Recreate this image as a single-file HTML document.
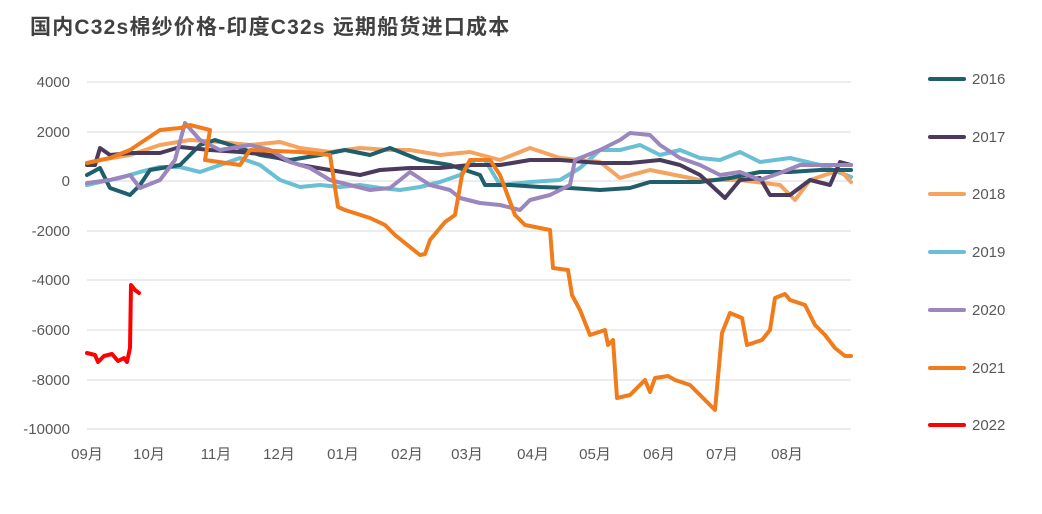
<!DOCTYPE html>
<html><head><meta charset="utf-8"><style>
body{margin:0;background:#fff;width:1042px;height:514px;overflow:hidden}
svg{display:block}
text{font-family:"Liberation Sans","Noto Sans CJK SC",sans-serif;fill:#595959;font-size:15px}
</style></head><body>
<svg width="1042" height="514" viewBox="0 0 1042 514">
<text x="30" y="34" style="font-size:21px;font-weight:bold;fill:#404040;letter-spacing:1.2px">国内C32s棉纱价格-印度C32s 远期船货进口成本</text>
<g stroke="#d9d9d9" stroke-width="1">
<line x1="87" x2="851" y1="82" y2="82"/><line x1="87" x2="851" y1="132" y2="132"/>
<line x1="87" x2="851" y1="181" y2="181"/><line x1="87" x2="851" y1="231" y2="231"/>
<line x1="87" x2="851" y1="280" y2="280"/><line x1="87" x2="851" y1="330" y2="330"/>
<line x1="87" x2="851" y1="380" y2="380"/><line x1="87" x2="851" y1="429" y2="429"/>
</g>
<g text-anchor="end">
<text x="70" y="87">4000</text><text x="70" y="137">2000</text><text x="70" y="186">0</text>
<text x="70" y="236">-2000</text><text x="70" y="285">-4000</text><text x="70" y="335">-6000</text>
<text x="70" y="385">-8000</text><text x="70" y="434">-10000</text>
</g>
<g text-anchor="middle">
<text x="87" y="459">09月</text><text x="149" y="459">10月</text><text x="216" y="459">11月</text>
<text x="279" y="459">12月</text><text x="343" y="459">01月</text><text x="407" y="459">02月</text>
<text x="467" y="459">03月</text><text x="533" y="459">04月</text><text x="595" y="459">05月</text>
<text x="659" y="459">06月</text><text x="722" y="459">07月</text><text x="787" y="459">08月</text>
</g>
<g fill="none" stroke-width="4" stroke-linejoin="round" stroke-linecap="round">
<polyline stroke="#6bbfd4" points="87,185 100,182 120,178 140,172 160,167 180,167 200,172 220,165 240,158 260,165 280,180 300,187 320,185 340,187 360,185 380,188 400,190 420,187 440,182 460,175 475,160 485,160 500,185 530,182 560,180 580,168 600,150 620,150 640,145 660,155 680,150 700,158 720,160 740,152 760,162 790,158 820,165 851,177"/>
<polyline stroke="#f4a460" points="87,163 100,160 130,155 160,145 190,140 220,142 250,145 280,142 300,148 330,152 360,148 390,150 410,150 440,155 470,152 500,160 530,148 560,158 600,162 620,178 650,170 700,180 740,180 780,185 795,200 810,180 840,170 851,182"/>
<polyline stroke="#1f5f6b" points="87,175 100,168 110,188 130,195 140,185 150,170 180,165 200,145 215,140 240,148 260,155 290,160 320,155 345,150 370,155 390,148 420,160 450,165 480,175 485,185 510,185 540,187 570,188 600,190 630,188 650,182 700,182 730,178 760,172 790,172 820,170 851,170"/>
<polyline stroke="#4a3b5c" points="87,165 95,165 100,148 110,155 130,153 160,153 180,147 210,150 240,152 270,155 300,165 330,170 360,175 380,170 410,168 440,168 470,165 500,165 530,160 560,160 600,163 630,163 660,160 680,165 700,175 725,198 740,180 760,178 770,195 790,195 810,180 830,185 840,162 851,165"/>
<polyline stroke="#9b86be" points="87,183 110,180 130,175 140,188 160,180 175,160 185,123 200,140 220,150 250,145 270,150 290,162 310,168 330,180 350,185 370,190 390,188 410,172 430,185 450,190 460,198 480,203 500,205 520,210 530,200 550,195 570,185 575,160 600,150 620,140 630,133 650,135 660,145 680,158 700,165 720,175 740,172 760,180 780,173 800,165 820,165 851,165"/>
<polyline stroke="#f07c1c" points="87,163 110,158 130,150 160,130 180,128 190,125 210,130 205,160 240,165 250,150 300,152 330,155 338,207 345,210 370,218 385,225 395,235 420,255 425,254 430,240 445,222 455,215 462,175 470,160 490,160 500,175 515,215 525,225 550,230 553,268 568,270 572,295 580,310 590,335 605,330 608,345 613,340 617,398 630,395 645,380 650,392 655,378 668,376 675,380 690,385 700,395 715,410 722,333 730,313 742,318 747,345 762,340 770,330 775,298 785,294 790,300 805,305 815,325 825,335 835,348 845,356 851,356"/>
<polyline stroke="#ff0000" points="87,353 95,355 98,362 104,356 112,354 118,361 124,358 127,362 130,348 131,285 135,290 139,293"/>
</g>
<g stroke-width="4" stroke-linecap="round">
<line x1="930" x2="964" y1="79" y2="79" stroke="#1f5f6b"/>
<line x1="930" x2="964" y1="137" y2="137" stroke="#4a3b5c"/>
<line x1="930" x2="964" y1="194" y2="194" stroke="#f4a460"/>
<line x1="930" x2="964" y1="252" y2="252" stroke="#6bbfd4"/>
<line x1="930" x2="964" y1="310" y2="310" stroke="#9b86be"/>
<line x1="930" x2="964" y1="368" y2="368" stroke="#f07c1c"/>
<line x1="930" x2="964" y1="425" y2="425" stroke="#ff0000"/>
</g>
<text x="972" y="84">2016</text><text x="972" y="142">2017</text><text x="972" y="199">2018</text>
<text x="972" y="257">2019</text><text x="972" y="315">2020</text><text x="972" y="373">2021</text>
<text x="972" y="430">2022</text>
</svg>
</body></html>
